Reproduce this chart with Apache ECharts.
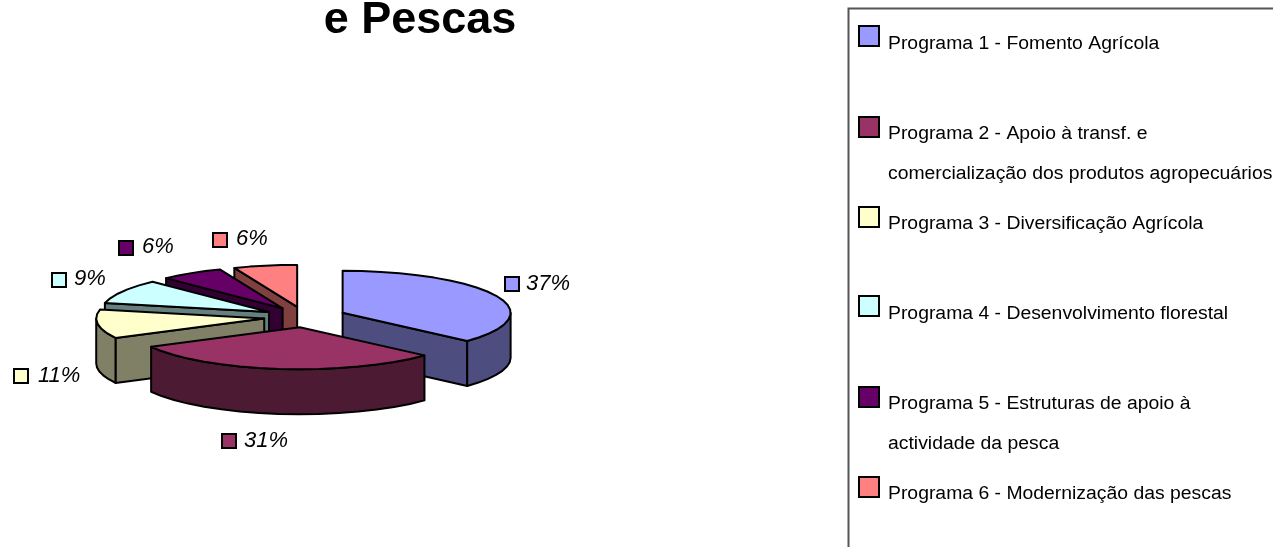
<!DOCTYPE html>
<html lang="pt">
<head>
    <meta charset="UTF-8">
    <title>e Pescas</title>
    <style>
        html, body { margin: 0; padding: 0; background: #fff; }
        #main { width: 1273px; height: 547px; overflow: hidden; }
    </style>
    <script src="https://cdn.jsdelivr.net/npm/echarts@6/dist/echarts.min.js"></script>
</head>
<body>
    <div id="main"></div>
    <script type="text/javascript">
        var titleText = 'e Pescas';
        // shares, the labels show them rounded
        var shares = [36.7, 30.6, 11.1, 9.4, 6.1, 6.1];
        var legendLines = [
            ['Programa 1 - Fomento Agrícola'],
            ['Programa 2 - Apoio à transf. e', 'comercialização dos produtos agropecuários'],
            ['Programa 3 - Diversificação Agrícola'],
            ['Programa 4 - Desenvolvimento florestal'],
            ['Programa 5 - Estruturas de apoio à', 'actividade da pesca'],
            ['Programa 6 - Modernização das pescas']
        ];
        var colors = ['#9999ff', '#993366', '#ffffcc', '#ccffff', '#660066', '#ff8080'];
        var wallColors = ['#4d4d80', '#4d1a33', '#808066', '#668080', '#330033', '#804040'];

        // back slices are painted first, slice 2 is the nearest one
        var paintOrder = [5, 4, 3, 2, 0, 1];

        // pie geometry (pixels)
        var cx = 305, cy = 317, rx = 168, ry = 42, depth = 45, explode = 0.245;

        // [swatch x, swatch y, text x, text baseline]
        var labelSpots = [
            [505, 277, 526, 290],
            [222, 434, 244, 447],
            [14, 369, 38, 382],
            [52, 273, 74, 285],
            [119, 241, 142, 253],
            [213, 233, 236, 245]
        ];
        var legendSwatchY = [26, 117, 207, 296, 387, 477];
        var legendBaseY = [49, 139, 229, 319, 409, 499];

        var total = shares.reduce(function (a, b) { return a + b; }, 0);
        var startAngles = [];
        var sum = 0;
        for (var i = 0; i < shares.length; i++) {
            startAngles.push(sum / total * Math.PI * 2);
            sum += shares[i];
        }

        function onEllipse(ax, ay, t, dy) {
            return [ax + rx * Math.sin(t), ay - ry * Math.cos(t) + (dy || 0)];
        }

        function arcPoints(ax, ay, t0, t1, dy) {
            var pts = [];
            var n = Math.max(2, Math.ceil((t1 - t0) / (Math.PI / 26)));
            for (var k = 0; k <= n; k++) {
                pts.push(onEllipse(ax, ay, t0 + (t1 - t0) * k / n, dy));
            }
            return pts;
        }

        function poly(points, fill) {
            return {
                type: 'polygon',
                shape: { points: points },
                style: { fill: fill, stroke: '#000', lineWidth: 2, lineJoin: 'round' }
            };
        }

        function radialWall(ax, ay, t, fill) {
            var p = onEllipse(ax, ay, t);
            return poly([[ax, ay], p, [p[0], p[1] + depth], [ax, ay + depth]], fill);
        }

        function renderSlice(params, api) {
            var idx = api.value(0);
            var t0 = startAngles[idx];
            var t1 = t0 + shares[idx] / total * Math.PI * 2;
            var mid = (t0 + t1) / 2;
            var ax = cx + rx * explode * Math.sin(mid);
            var ay = cy - ry * explode * Math.cos(mid);
            var children = [];

            if (Math.sin(t0) < -1e-6) {
                children.push(radialWall(ax, ay, t0, wallColors[idx]));
            }
            if (Math.sin(t1) > 1e-6) {
                children.push(radialWall(ax, ay, t1, wallColors[idx]));
            }
            // outer wall, only the part that faces the viewer
            var a0 = Math.max(t0, Math.PI / 2);
            var a1 = Math.min(t1, Math.PI * 1.5);
            if (a1 > a0) {
                var upper = arcPoints(ax, ay, a0, a1, 0);
                var lower = arcPoints(ax, ay, a0, a1, depth).reverse();
                children.push(poly(upper.concat(lower), wallColors[idx]));
            }
            // top face
            children.push(poly([[ax, ay]].concat(arcPoints(ax, ay, t0, t1, 0)), colors[idx]));

            // percent label
            var spot = labelSpots[idx];
            children.push({
                type: 'rect',
                z2: 10,
                shape: { x: spot[0], y: spot[1], width: 14, height: 14 },
                style: { fill: colors[idx], stroke: '#000', lineWidth: 2 }
            });
            children.push({
                type: 'text',
                z2: 10,
                style: {
                    x: spot[2],
                    y: spot[3] - 17,
                    text: Math.round(shares[idx]) + '%',
                    fill: '#000',
                    font: 'italic 22px "Liberation Sans", Arial, sans-serif'
                }
            });
            return { type: 'group', children: children };
        }

        var graphics = [
            {
                type: 'polyline',
                shape: { points: [[848.5, 547], [848.5, 8.5], [1273, 8.5]] },
                style: { fill: null, stroke: '#555', lineWidth: 2 }
            }
        ];
        legendLines.forEach(function (lines, i) {
            graphics.push({
                type: 'rect',
                shape: { x: 859, y: legendSwatchY[i], width: 20, height: 20 },
                style: { fill: colors[i], stroke: '#000', lineWidth: 2 }
            });
            lines.forEach(function (line, j) {
                graphics.push({
                    type: 'text',
                    x: 888,
                    y: legendBaseY[i] + j * 40 - 14,
                    scaleX: 1.076,
                    style: {
                        text: line,
                        fill: '#000',
                        font: '18px "Liberation Sans", Arial, sans-serif'
                    }
                });
            });
        });

        var chart = echarts.init(document.getElementById('main'), null, { renderer: 'canvas' });
        chart.setOption({
            backgroundColor: '#fff',
            animation: false,
            title: {
                text: titleText,
                left: 415,
                textAlign: 'center',
                top: -7,
                textStyle: {
                    color: '#000',
                    fontSize: 45,
                    fontWeight: 'bold',
                    fontFamily: '"Liberation Sans", Arial, sans-serif'
                }
            },
            tooltip: { show: false },
            graphic: graphics,
            series: [{
                type: 'custom',
                coordinateSystem: 'none',
                silent: true,
                renderItem: renderSlice,
                data: paintOrder.map(function (i) { return [i]; })
            }]
        });
    </script>
</body>
</html>
